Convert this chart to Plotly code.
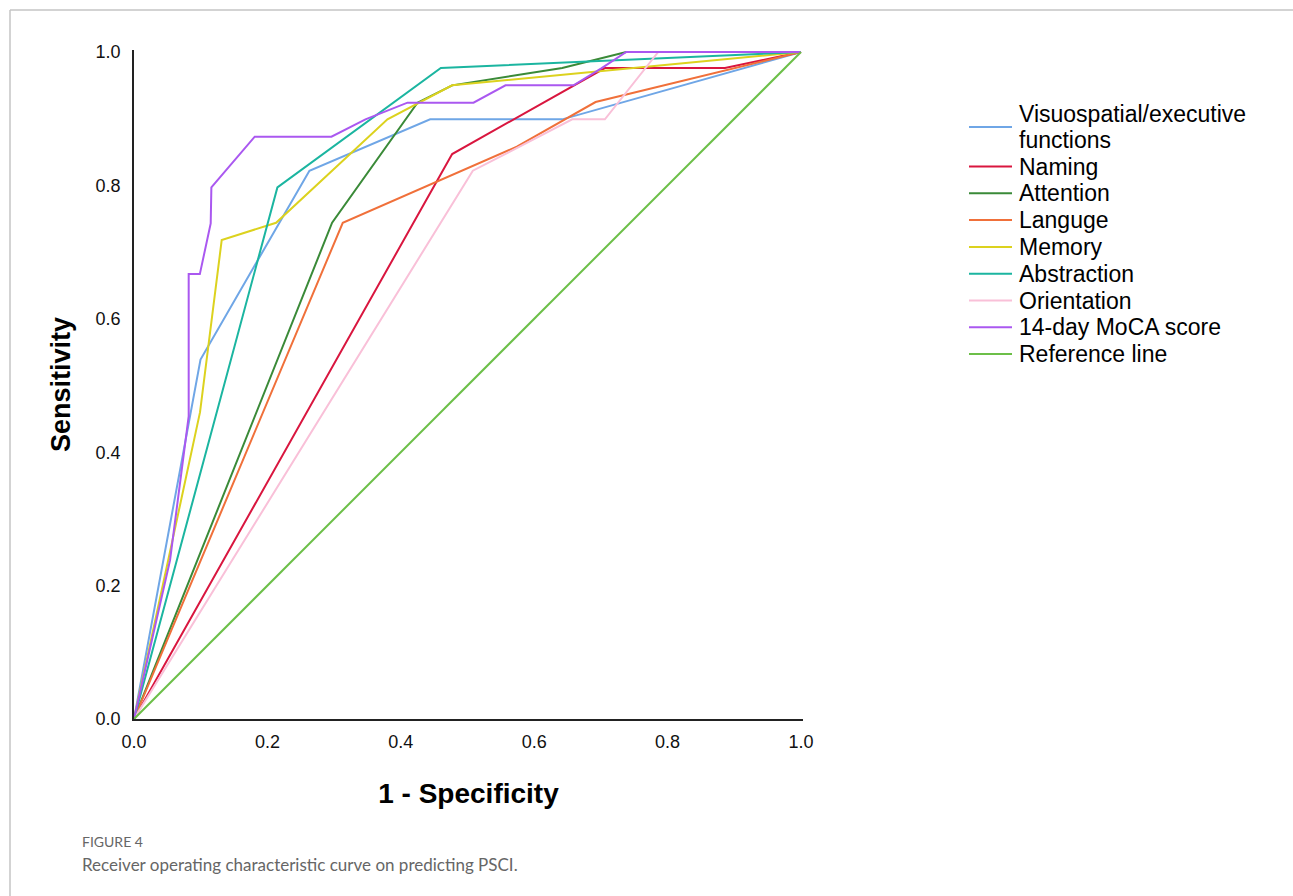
import plotly.graph_objects as go

# ---------------- data ----------------
series_names = [
    "Visuospatial/executive<br>functions",
    "Naming",
    "Attention",
    "Languge",
    "Memory",
    "Abstraction",
    "Orientation",
    "14-day MoCA score",
    "Reference line",
]

vis_x = [0, 0.0997, 0.263, 0.444, 0.642, 1.0]
vis_y = [0, 0.539, 0.822, 0.899, 0.899, 1.0]

naming_x = [0, 0.477, 0.706, 0.886, 1.0]
naming_y = [0, 0.847, 0.976, 0.976, 1.0]

attention_x = [0, 0.297, 0.425, 0.477, 0.642, 0.738, 1.0]
attention_y = [0, 0.744, 0.924, 0.950, 0.976, 1.0, 1.0]

language_x = [0, 0.313, 0.574, 0.692, 1.0]
language_y = [0, 0.744, 0.858, 0.925, 1.0]

memory_x = [0, 0.099, 0.1315, 0.213, 0.38, 0.477, 1.0]
memory_y = [0, 0.46, 0.718, 0.744, 0.899, 0.950, 1.0]

abstraction_x = [0, 0.215, 0.46, 1.0]
abstraction_y = [0, 0.797, 0.976, 1.0]

orientation_x = [0, 0.508, 0.657, 0.706, 0.786, 1.0]
orientation_y = [0, 0.822, 0.899, 0.899, 1.0, 1.0]

moca_x = [0, 0.054, 0.082, 0.082, 0.0987, 0.115, 0.116, 0.181, 0.296, 0.347,
          0.41, 0.509, 0.557, 0.659, 0.70, 0.738, 1.0]
moca_y = [0, 0.238, 0.454, 0.667, 0.667, 0.743, 0.797, 0.873, 0.873, 0.899,
          0.924, 0.924, 0.950, 0.950, 0.975, 1.0, 1.0]

ref_x = [0, 1]
ref_y = [0, 1]

tick_vals = [0.0, 0.2, 0.4, 0.6, 0.8, 1.0]
tick_text = ["0.0", "0.2", "0.4", "0.6", "0.8", "1.0"]

colors = ["#6fa6e6", "#d9163f", "#3a8a38", "#f0703a", "#dcd21e",
          "#1bb5a0", "#f9c0d8", "#aa58f0", "#6cbf48"]

xs = [vis_x, naming_x, attention_x, language_x, memory_x,
      abstraction_x, orientation_x, moca_x, ref_x]
ys = [vis_y, naming_y, attention_y, language_y, memory_y,
      abstraction_y, orientation_y, moca_y, ref_y]

# ---------------- figure ----------------
W, H = 1293, 896
L, R, T, B = 134, 490, 50, 177
pw, ph = W - L - R, H - T - B

def px_to_paper_x(px):
    return (px - L) / pw

def px_to_paper_y(py):
    return (H - B - py) / ph

fig = go.Figure()
for name, x, y, c in zip(series_names, xs, ys, colors):
    fig.add_trace(go.Scatter(x=x, y=y, mode="lines", name=name,
                             line=dict(color=c, width=2), showlegend=False))

FAM = "Liberation Sans, Arial, sans-serif"
axis_font = dict(family=FAM, size=18, color="#111")
fig.update_xaxes(range=[0, 1.003], tickvals=tick_vals, ticktext=tick_text,
                 showgrid=False, zeroline=False, showline=True,
                 linecolor="#222", linewidth=1.5, ticks="", tickfont=axis_font,
                 ticklabelstandoff=6,
                 title=dict(text="<b>1 - Specificity</b>", standoff=32,
                            font=dict(family=FAM, size=28, color="#000")))
fig.update_yaxes(range=[0, 1.003], tickvals=tick_vals, ticktext=tick_text,
                 showgrid=False, zeroline=False, showline=True,
                 linecolor="#222", linewidth=1.5, ticks="", tickfont=axis_font,
                 ticklabelstandoff=8,
                 title=dict(text="<b>Sensitivity</b>", standoff=17,
                            font=dict(family=FAM, size=27, color="#000")))

shapes = []
annotations = []

# manual legend (tight spacing as in the reference)
LEG_SIZE = 23
sym_x0, sym_x1, txt_x = 969, 1012, 1017
first_y = 127
single_start = 166.5
step = 26.8
for i, (name, c) in enumerate(zip(series_names, colors)):
    if i == 0:
        sy = first_y
        ty = 127
        parts = name.split("<br>")
        # base size sets the line spacing; spans carry the visible size
        text = "<br>".join(f"<span style='font-size:{LEG_SIZE}px'>{p}</span>" for p in parts)
        fnt = dict(family=FAM, size=20, color="#000")
    else:
        sy = single_start + step * (i - 1)
        ty = sy
        text = name
        fnt = dict(family=FAM, size=LEG_SIZE, color="#000")
    annotations.append(dict(x=px_to_paper_x(txt_x), y=px_to_paper_y(ty),
                            xref="paper", yref="paper", text=text,
                            showarrow=False, xanchor="left", yanchor="middle",
                            align="left", font=fnt))
    shapes.append(dict(type="line", xref="paper", yref="paper",
                       x0=px_to_paper_x(sym_x0), x1=px_to_paper_x(sym_x1),
                       y0=px_to_paper_y(sy), y1=px_to_paper_y(sy),
                       line=dict(color=c, width=2)))

# page frame lines
shapes.append(dict(type="line", xref="paper", yref="paper",
                   x0=px_to_paper_x(10), x1=px_to_paper_x(W),
                   y0=px_to_paper_y(10), y1=px_to_paper_y(10),
                   line=dict(color="#c4c4c4", width=1.5)))
shapes.append(dict(type="line", xref="paper", yref="paper",
                   x0=px_to_paper_x(10), x1=px_to_paper_x(10),
                   y0=px_to_paper_y(10), y1=px_to_paper_y(H),
                   line=dict(color="#c4c4c4", width=1.5)))

# caption
annotations.append(dict(x=px_to_paper_x(80), y=px_to_paper_y(841),
                        xref="paper", yref="paper", text="FIGURE 4",
                        showarrow=False, xanchor="left", yanchor="middle",
                        font=dict(family="Lato, Open Sans, sans-serif", size=14,
                                  color="#666")))
annotations.append(dict(x=px_to_paper_x(80), y=px_to_paper_y(864),
                        xref="paper", yref="paper",
                        text="Receiver operating characteristic curve on predicting PSCI.",
                        showarrow=False, xanchor="left", yanchor="middle",
                        font=dict(family="Lato, Open Sans, sans-serif", size=17,
                                  color="#666")))

fig.update_layout(width=W, height=H,
                  margin=dict(l=L, r=R, t=T, b=B, autoexpand=False),
                  paper_bgcolor="white", plot_bgcolor="white",
                  showlegend=False, shapes=shapes, annotations=annotations)

fig.write_html("out.html", config={"displayModeBar": False},
               post_script="document.body.style.margin='0';")
